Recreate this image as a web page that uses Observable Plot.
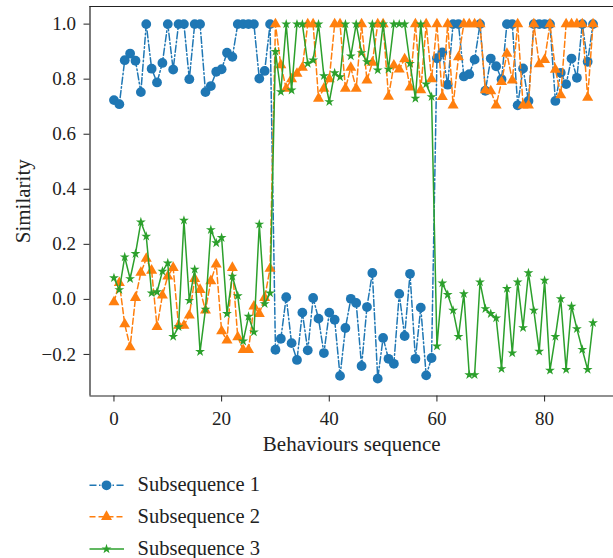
<!DOCTYPE html>
<html><head><meta charset="utf-8">
<script src="https://cdn.jsdelivr.net/npm/d3@7"></script>
<script src="https://cdn.jsdelivr.net/npm/@observablehq/plot@0.6"></script>
<style>
body{margin:0;background:#fff;}
#wrap{position:relative;width:613px;height:558px;overflow:hidden;font-family:"Liberation Serif","Times New Roman","DejaVu Serif",serif;background:#fff;}
#wrap svg{position:absolute;left:0;}
#wrap svg text{font-family:"Liberation Serif","Times New Roman","DejaVu Serif",serif !important;}
</style></head><body><div id="wrap"></div>
<script>
const seq = d3.range(90);
const seriesNames = ["Subsequence 1","Subsequence 2","Subsequence 3"];
const sub1 = [0.724,0.709,0.869,0.893,0.867,0.753,1.0,0.838,0.788,0.859,
 1.0,0.835,1.0,1.0,0.80,1.0,1.0,0.753,0.775,0.827,
 0.836,0.896,0.881,1.0,1.0,1.0,1.0,0.802,0.83,1.0,
 -0.183,-0.143,0.008,-0.159,-0.22,-0.048,-0.185,0.005,-0.07,-0.195,
 -0.048,-0.074,-0.278,-0.104,0.002,-0.013,-0.242,-0.028,0.096,-0.288,
 -0.14,-0.216,-0.234,0.02,-0.133,0.093,-0.216,-0.03,-0.276,-0.213,
 0.876,0.897,0.78,1.0,1.0,0.81,0.818,0.871,1.0,0.758,
 0.875,0.847,0.80,1.0,1.0,0.705,0.839,0.721,1.0,1.0,
 1.0,1.0,0.721,0.823,0.782,0.875,0.805,1.0,0.863,1.0];
const sub2 = [-0.01,0.06,-0.09,-0.173,0.006,0.097,0.148,0.105,-0.10,0.015,
 0.084,0.115,-0.095,-0.095,-0.058,0.075,0.035,-0.04,0.067,0.127,
 -0.115,-0.149,0.115,-0.137,-0.183,-0.183,-0.025,-0.052,0.006,0.112,
 1.0,0.851,0.766,0.80,0.82,0.842,1.0,1.0,0.73,0.766,
 0.80,1.0,1.0,0.766,0.842,0.766,1.0,0.796,0.86,1.0,
 1.0,0.737,0.85,0.836,0.873,0.77,1.0,0.76,1.0,0.80,
 1.0,0.736,1.0,0.705,0.88,1.0,1.0,1.0,1.0,0.76,
 0.757,0.705,0.79,0.893,0.796,1.0,0.705,0.705,1.0,0.855,
 0.87,1.0,0.835,0.742,1.0,1.0,1.0,1.0,0.733,1.0];
const sub3 = [0.078,0.035,0.154,0.075,0.166,0.281,0.229,0.023,0.027,0.102,
 0.132,-0.135,-0.10,0.287,-0.004,0.109,-0.19,-0.036,0.253,0.205,
 0.224,-0.052,0.084,0.013,-0.152,-0.062,-0.119,0.273,-0.016,0.023,
 0.90,0.754,1.0,0.76,1.0,1.0,0.857,0.869,1.0,0.812,
 0.718,0.823,0.808,1.0,0.884,1.0,0.896,0.863,1.0,0.833,
 1.0,0.836,1.0,1.0,1.0,0.857,0.73,1.0,0.782,0.736,
 -0.17,0.059,0.017,-0.04,-0.135,0.02,-0.274,-0.274,0.063,-0.034,
 -0.052,-0.068,-0.252,0.039,-0.195,0.063,-0.103,0.096,-0.04,-0.189,
 0.069,-0.258,-0.135,0.002,-0.255,-0.025,-0.107,-0.182,-0.255,-0.085];
const xTicks = [0,20,40,60,80];
const yTicks = [-0.2,0.0,0.2,0.4,0.6,0.8,1.0];
const xLabel = "Behaviours sequence";
const yLabel = "Similarity";

const FONT = '"Liberation Serif","Times New Roman","DejaVu Serif",serif';
const colors = ["#1f77b4","#ff7f0e","#2ca02c"];
const symbols = ["circle","triangle","star"];
const radii = [4.9,4.1,3.1];
const dashes = ["7,2.5,1.5,2.5","6,3",null];
const xDomain = [-4.45, 92.8];
const yDomain = [-0.351, 1.064];
const allSeries = [sub1, sub2, sub3];

const marks = [];
allSeries.forEach((vals, k) => {
  const rows = seq.map(i => ({x: i, y: vals[i]}));
  marks.push(Plot.line(rows, {x: "x", y: "y", stroke: colors[k], strokeWidth: 1.5, strokeDasharray: dashes[k] || undefined}));
  marks.push(Plot.dot(rows, {x: "x", y: "y", fill: colors[k], r: radii[k], symbol: symbols[k], stroke: "none"}));
});

const plot = Plot.plot({
  width: 613, height: 460,
  marginLeft: 89.5, marginRight: 0, marginTop: 6, marginBottom: 64.5,
  style: {fontFamily: FONT, fontSize: "19px", color: "#222", background: "#fff", overflow: "visible"},
  x: {domain: xDomain},
  y: {domain: yDomain},
  marks: [
    Plot.ruleY([yDomain[0]], {stroke: "#222", strokeWidth: 1.2}),
    Plot.ruleY([yDomain[1]], {stroke: "#222", strokeWidth: 1.2}),
    Plot.ruleX([xDomain[0]], {stroke: "#222", strokeWidth: 1.2}),
    Plot.axisX({ticks: xTicks, tickSize: 6, tickPadding: 9, fontSize: 19, label: null, tickFormat: d3.format("d")}),
    Plot.axisY({ticks: yTicks, tickSize: 6, tickPadding: 8, fontSize: 19, label: null, tickFormat: d3.format(".1f")}),
    Plot.text([xLabel], {frameAnchor: "bottom", lineAnchor: "middle", textAnchor: "middle", dy: 48.5, fontSize: 21, fill: "#222"}),
    Plot.text([yLabel], {frameAnchor: "left", lineAnchor: "middle", textAnchor: "middle", dx: -66.7, rotate: -90, fontSize: 21, fill: "#222"}),
    ...marks
  ]
});
const wrap = document.getElementById("wrap");
plot.style.top = "0px";
wrap.appendChild(plot);

// legend
const leg = d3.select(wrap).append("svg").attr("width", 613).attr("height", 98).style("top", "460px");
const rowY = [25.3, 56.7, 89];
seriesNames.forEach((name, k) => {
  const g = leg.append("g").attr("transform", `translate(0,${rowY[k]})`);
  g.append("line").attr("x1", 89.5).attr("x2", 124).attr("y1", 0).attr("y2", 0)
    .attr("stroke", colors[k]).attr("stroke-width", 1.5)
    .attr("stroke-dasharray", dashes[k] || null);
  const symType = {circle: d3.symbolCircle, triangle: d3.symbolTriangle, star: d3.symbolStar}[symbols[k]];
  g.append("path").attr("transform", "translate(106.5,0)")
    .attr("d", d3.symbol(symType, radii[k] * radii[k] * Math.PI)())
    .attr("fill", colors[k]);
  g.append("text").attr("x", 137.5).attr("y", 6).attr("fill", "#222")
    .attr("font-size", 20.5).attr("font-family", FONT).text(name);
});
</script></body></html>
